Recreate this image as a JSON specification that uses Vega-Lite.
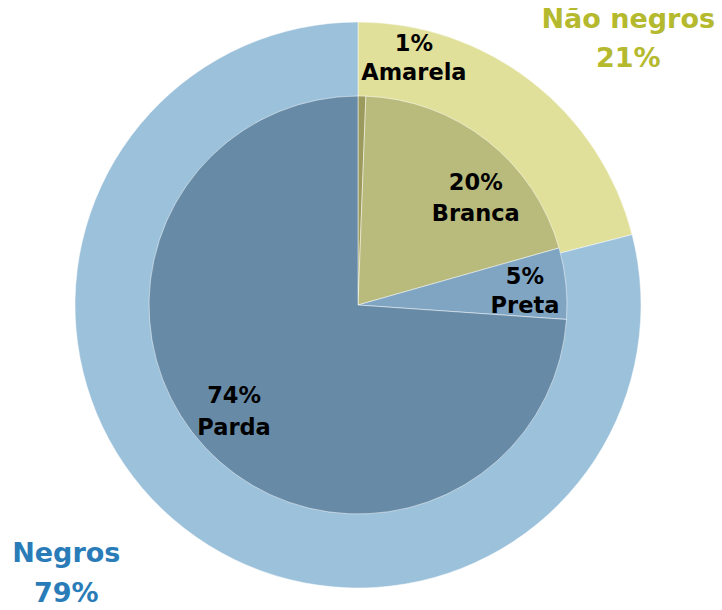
{
  "$schema": "https://vega.github.io/schema/vega-lite/v6.json",
  "width": 716,
  "height": 610,
  "autosize": "none",
  "padding": {"left": 0, "top": 0, "right": 6, "bottom": 0},
  "background": "white",
  "config": {"view": {"stroke": null}},
  "datasets": {
    "externo": [
      {"grupo": "Não negros", "valor": 21, "ordem": 1, "rotulo": "Não negros\n21%"},
      {"grupo": "Negros", "valor": 79, "ordem": 2, "rotulo": "Negros\n79%"}
    ],
    "interno": [
      {"grupo": "Amarela", "valor": 0.6, "ordem": 1, "rotulo": "1%\nAmarela"},
      {"grupo": "Branca", "valor": 20.0, "ordem": 2, "rotulo": "20%\nBranca"},
      {"grupo": "Preta", "valor": 5.5, "ordem": 3, "rotulo": "5%\nPreta"},
      {"grupo": "Parda", "valor": 73.9, "ordem": 4, "rotulo": "74%\nParda"}
    ]
  },
  "encoding": {
    "theta": {"field": "valor", "type": "quantitative", "stack": true},
    "order": {"field": "ordem", "type": "quantitative", "sort": "ascending"}
  },
  "layer": [
    {
      "data": {"name": "externo"},
      "mark": {"type": "arc", "radius": 283, "stroke": "#ffffff", "strokeWidth": 0.5},
      "encoding": {
        "color": {
          "field": "grupo", "type": "nominal", "legend": null,
          "scale": {
            "domain": ["Não negros", "Negros", "Amarela", "Branca", "Preta", "Parda"],
            "range": ["#E0E09B", "#9CC1DB", "#9C9A5C", "#B9BB7D", "#7FA5C3", "#678BA7"]
          }
        }
      }
    },
    {
      "data": {"name": "interno"},
      "mark": {"type": "arc", "radius": 209, "stroke": "#ffffff", "strokeWidth": 0.5},
      "encoding": {
        "color": {"field": "grupo", "type": "nominal", "legend": null}
      }
    },
    {
      "data": {"name": "interno"},
      "mark": {"type": "text", "radius": 267, "thetaOffset": 0.192, "font": "DejaVu Sans", "fontWeight": "bold", "fontSize": 22.5, "lineHeight": 29, "lineBreak": "\n", "baseline": "middle", "align": "center", "color": "#000000"},
      "encoding": {"text": {"condition": {"test": "datum.grupo === 'Amarela'", "field": "rotulo"}, "value": ""}}
    },
    {
      "data": {"name": "interno"},
      "mark": {"type": "text", "radius": 169.7, "thetaOffset": 0.101, "font": "DejaVu Sans", "fontWeight": "bold", "fontSize": 22.5, "lineHeight": 31, "lineBreak": "\n", "baseline": "middle", "align": "center", "color": "#000000"},
      "encoding": {"text": {"condition": {"test": "datum.grupo === 'Branca'", "field": "rotulo"}, "value": ""}}
    },
    {
      "data": {"name": "interno"},
      "mark": {"type": "text", "radius": 169.3, "thetaOffset": -0.063, "font": "DejaVu Sans", "fontWeight": "bold", "fontSize": 22.5, "lineHeight": 29, "lineBreak": "\n", "baseline": "middle", "align": "center", "color": "#000000"},
      "encoding": {"text": {"condition": {"test": "datum.grupo === 'Preta'", "field": "rotulo"}, "value": ""}}
    },
    {
      "data": {"name": "interno"},
      "mark": {"type": "text", "radius": 153.8, "thetaOffset": 0.117, "font": "DejaVu Sans", "fontWeight": "bold", "fontSize": 22.5, "lineHeight": 32, "lineBreak": "\n", "baseline": "middle", "align": "center", "color": "#000000"},
      "encoding": {"text": {"condition": {"test": "datum.grupo === 'Parda'", "field": "rotulo"}, "value": ""}}
    },
    {
      "data": {"name": "externo"},
      "mark": {"type": "text", "radius": 392.6, "thetaOffset": 0.0995, "font": "DejaVu Sans", "fontWeight": "bold", "fontSize": 27, "lineHeight": 39, "lineBreak": "\n", "baseline": "middle", "align": "center", "color": "#B5B92E"},
      "encoding": {"text": {"condition": {"test": "datum.grupo === 'Não negros'", "field": "rotulo"}, "value": ""}}
    },
    {
      "data": {"name": "externo"},
      "mark": {"type": "text", "radius": 383.7, "thetaOffset": 0.204, "font": "DejaVu Sans", "fontWeight": "bold", "fontSize": 27, "lineHeight": 40, "lineBreak": "\n", "baseline": "middle", "align": "center", "color": "#2A7CB8"},
      "encoding": {"text": {"condition": {"test": "datum.grupo === 'Negros'", "field": "rotulo"}, "value": ""}}
    }
  ]
}
